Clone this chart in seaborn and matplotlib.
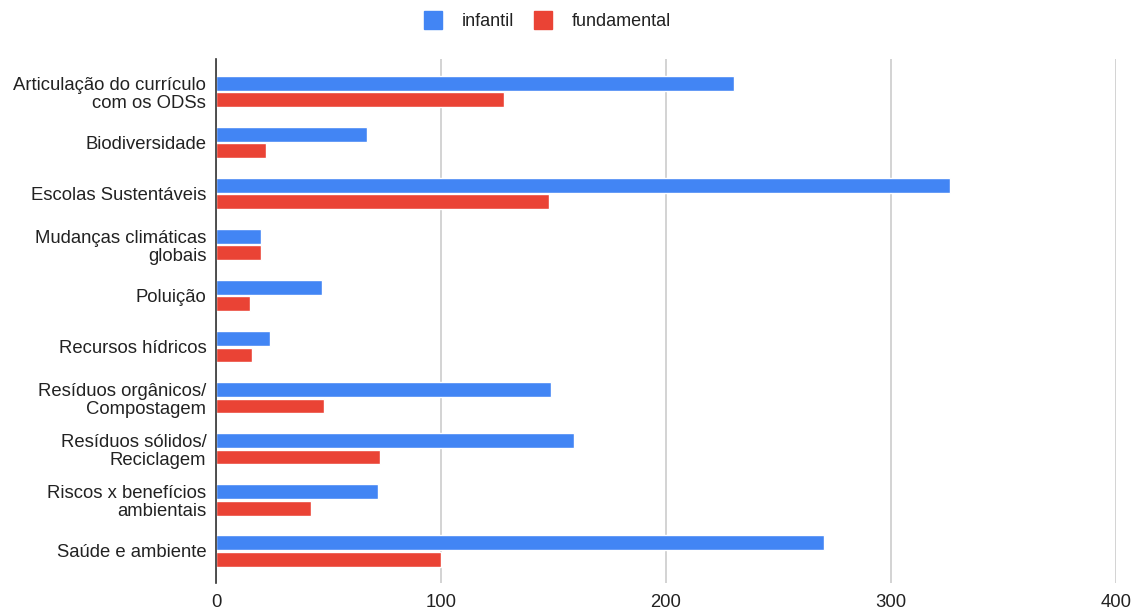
import matplotlib
matplotlib.use("Agg")
import matplotlib.pyplot as plt
import seaborn as sns
import pandas as pd
from matplotlib.lines import Line2D

categories = [
    "Articulação do currículo\ncom os ODSs",
    "Biodiversidade",
    "Escolas Sustentáveis",
    "Mudanças climáticas\nglobais",
    "Poluição",
    "Recursos hídricos",
    "Resíduos orgânicos/\nCompostagem",
    "Resíduos sólidos/\nReciclagem",
    "Riscos x benefícios\nambientais",
    "Saúde e ambiente",
]
infantil = [230, 67, 326, 20, 47, 24, 149, 159, 72, 270]
fundamental = [128, 22, 148, 20, 15, 16, 48, 73, 42, 100]
series_names = ["infantil", "fundamental"]
colors = ["#4285F4", "#EA4335"]
x_ticks = [0, 100, 200, 300, 400]

df = pd.DataFrame({
    "categoria": categories * 2,
    "valor": infantil + fundamental,
    "serie": [series_names[0]] * len(categories) + [series_names[1]] * len(categories),
})

sns.set_theme(style="white")
plt.rcParams["font.family"] = ["Liberation Sans", "DejaVu Sans"]

fig = plt.figure(figsize=(11.33, 6.09), dpi=100)
ax = fig.add_axes([216 / 1133, 1 - 583 / 609, (1116 - 216) / 1133, (583 - 59) / 609])

sns.barplot(data=df, y="categoria", x="valor", hue="serie", order=categories,
            hue_order=series_names, palette=colors, orient="h",
            width=0.64, gap=0.09, ax=ax, legend=False, saturation=1)

ax.set_xlim(0, 400)
ax.set_ylim(9.5 + 6.5 / 51, -0.5 - 7 / 51)
ax.set_xticks(x_ticks)
ax.set_xticklabels([str(t) for t in x_ticks], fontsize=13.3, color="#222222")
ax.tick_params(axis="y", labelsize=13.3, labelcolor="#222222", length=0, pad=7)
ax.tick_params(axis="x", length=0, pad=8)
for lbl in ax.get_yticklabels():
    lbl.set_horizontalalignment("right")
    lbl.set_multialignment("right")
    lbl.set_linespacing(1.1)
ax.set_xlabel("")
ax.set_ylabel("")
ax.xaxis.grid(True, color="#cccccc", linewidth=1.2)
ax.set_axisbelow(True)
for s in ["top", "right", "bottom"]:
    ax.spines[s].set_visible(False)
ax.spines["left"].set_color("#333333")
ax.spines["left"].set_linewidth(1.2)

handles = [Line2D([0], [0], marker="s", linestyle="", markersize=13,
                  markerfacecolor=c, markeredgecolor=c) for c in colors]
fig.legend(handles, series_names, loc="center", bbox_to_anchor=(543 / 1133, 1 - 22 / 609),
           ncol=2, frameon=False, fontsize=13, handletextpad=0.6, columnspacing=0.6,
           labelcolor="#222222")

fig.savefig("out.png", dpi=100)
